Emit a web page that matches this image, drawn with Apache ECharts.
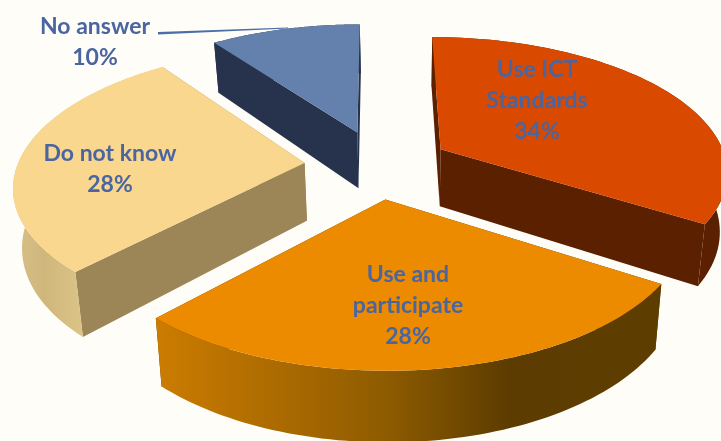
<!DOCTYPE html>
<html>
<head>
<meta charset="utf-8">
<style>html,body{margin:0;padding:0;background:#fffdf8}#c{width:721px;height:441px}</style>
<script src="https://cdn.jsdelivr.net/npm/echarts@6/dist/echarts.min.js"></script>
</head>
<body>
<div id="c"></div>
<script>
var categories = ['Use ICT\nStandards', 'Use and\nparticipate', 'Do not know', 'No answer'];
var values = [34, 28, 28, 10];

var topColors = ['#D94A00', '#EC8A00', '#FAD78F', '#6480AC'];
var cutColors = ['#5A2000', '#5C3A00', '#9C8556', '#27324C'];
var rimStops = [
  [[0, '#5A2000'], [1, '#5A2000']],
  [[0, '#CC7C00'], [0.45, '#8F5C00'], [0.7, '#5C3C00'], [1, '#5E3E00']],
  [[0, '#D8C088'], [0.2, '#CFB67B'], [0.45, '#DCC487'], [1, '#DCC487']],
  [[0, '#27324C'], [1, '#27324C']]
];
var labelPos = [[537, 69], [408, 274], [110, 153], [95, 26]];
var sliceNudge = [[0.01, 0], [0, 0], [0, 0], [0.01, -0.015]];

var view = { cx: 376, cy: 165, A: 287, B: 133.6, p: 0.152, explode: 0.25, depth: 58, vx: 405, shrink: 0.977 };
var total = values.reduce(function (a, b) { return a + b; }, 0);
var startAngles = [];
values.reduce(function (acc, v) { startAngles.push(acc); return acc + v / total * 360; }, -90);

function rad(d) { return d * Math.PI / 180; }
function project(X, Y, low) {
  var w = 1 - view.p * Y;
  var x = view.cx + view.A * X / w;
  var y = view.cy + view.B * Y / w;
  if (low) {
    x = view.vx + (x - view.vx) * view.shrink;
    y += view.depth / w;
  }
  return [x, y];
}

function renderItem(params, api) {
  var i = params.dataIndex;
  var a0 = startAngles[i];
  var a1 = a0 + values[i] / total * 360;
  var mid = rad((a0 + a1) / 2);
  var ox = view.explode * Math.cos(mid) + sliceNudge[i][0], oy = view.explode * Math.sin(mid) + sliceNudge[i][1];
  var arcTop = [], arcLow = [];
  for (var s = 0; s <= 72; s++) {
    var t = rad(a0 + (a1 - a0) * s / 72);
    arcTop.push(project(ox + Math.cos(t), oy + Math.sin(t), false));
    arcLow.push(project(ox + Math.cos(t), oy + Math.sin(t), true));
  }
  var apexTop = project(ox, oy, false), apexLow = project(ox, oy, true);
  var last = arcTop.length - 1;
  var grad = new echarts.graphic.LinearGradient(0, 0, 1, 0, rimStops[i].map(function (st) {
    return { offset: st[0], color: st[1] };
  }));
  return {
    type: 'group',
    children: [
      { type: 'polygon', shape: { points: [apexTop, arcTop[0], arcLow[0], apexLow] }, style: { fill: cutColors[i] } },
      { type: 'polygon', shape: { points: [apexTop, arcTop[last], arcLow[last], apexLow] }, style: { fill: cutColors[i] } },
      { type: 'polygon', shape: { points: arcTop.concat(arcLow.slice().reverse()) }, style: { fill: grad } },
      { type: 'polygon', shape: { points: [apexTop].concat(arcTop) }, style: { fill: topColors[i] } },
      { type: 'text', z2: 10, x: labelPos[i][0], y: labelPos[i][1] - 15,
        style: { text: categories[i] + '\n' + values[i] + '%', fill: '#4A659F',
          font: 'bold 23px Lato, sans-serif', align: 'center', verticalAlign: 'top', lineHeight: 31 } }
    ]
  };
}

var chart = echarts.init(document.getElementById('c'), null, { renderer: 'canvas' });
chart.setOption({
  backgroundColor: '#fffdf8',
  animation: false,
  graphic: [{ type: 'polygon', z: 20, shape: { points: [[158, 32], [288, 27.5], [288, 28.5], [158, 34.5]] }, style: { fill: '#4A6FA8' } }],
  series: [{ type: 'custom', coordinateSystem: 'none', renderItem: renderItem, data: values }]
});
</script>
</body>
</html>
